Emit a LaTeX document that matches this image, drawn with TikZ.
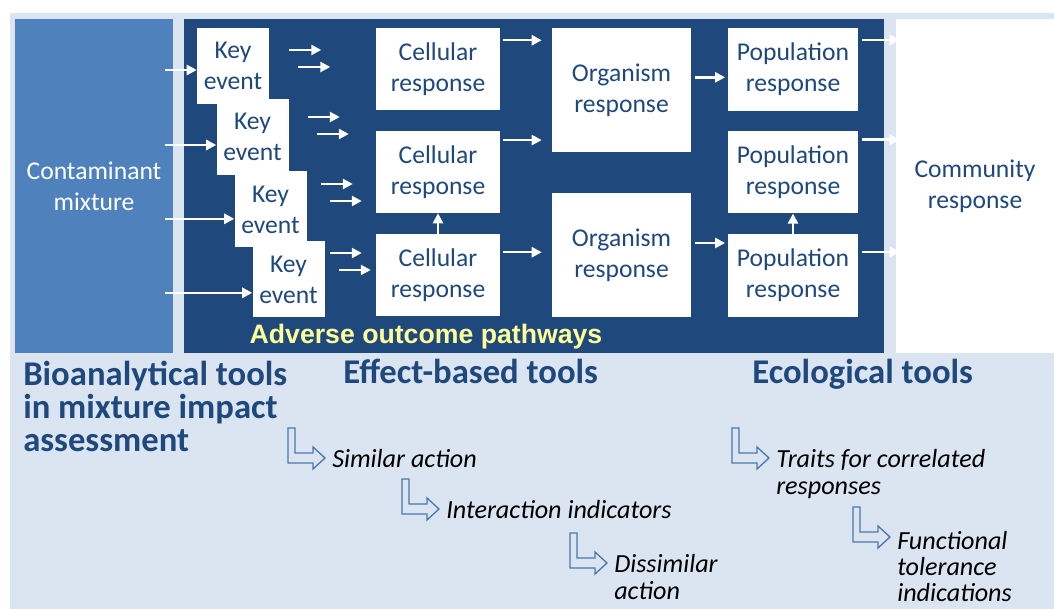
\documentclass[tikz,border=0pt]{standalone}
\usepackage{fontspec}
\setmainfont{Carlito}
\newfontfamily\arialfont{Liberation Sans}
\usetikzlibrary{arrows.meta, positioning}
\definecolor{bgblue}{HTML}{DBE5F1}
\definecolor{mixblue}{HTML}{4F81BD}
\definecolor{aopblue}{HTML}{1F497D}
\definecolor{textblue}{HTML}{1F497D}
\definecolor{aopyellow}{HTML}{FFFF99}
\definecolor{bentblue}{HTML}{4A78B0}
\newcommand{\boxfont}{\fontsize{19.2pt}{23.3pt}\selectfont}
\newcommand{\titlefont}{\fontsize{26pt}{25pt}\selectfont\bfseries}
\newcommand{\notefont}{\fontsize{19.6pt}{19.8pt}\selectfont\itshape}

\begin{document}
\begin{tikzpicture}[x=0.75pt, y=-0.75pt,
        box/.style={fill=white, text=textblue, font=\boxfont, align=center, inner sep=0pt},
        keybox/.style={box, minimum width=54pt, minimum height=57pt},
        cellbox/.style={box, minimum width=93pt, minimum height=61.5pt},
        orgbox/.style={box, minimum width=104.25pt, minimum height=93pt},
        popbox/.style={box, minimum width=97.5pt, minimum height=62pt},
        panel/.style={minimum width=118.5pt, minimum height=250.5pt, inner sep=0pt, font=\boxfont, align=center},
        flow/.style={white, line width=1.9pt, -{Triangle[length=7.5pt, width=7.5pt]}},
        title/.style={text=textblue, font=\titlefont, align=left, inner sep=0pt},
        note/.style={text=black, font=\notefont, align=left, inner sep=0pt},
        bentline/.style={draw=bentblue, fill=bgblue, line width=1pt},
        bent/.pic={
            \draw[bentline] (0,0) -- (7,0) -- (7,25) -- (25,25) -- (25,19) -- (37,30)
                -- (25,41) -- (25,35) -- (0,35) -- cycle;
            \coordinate (-tip) at (37,30);
        }]
        \useasboundingbox (0,0) rectangle (1054,609);

        % Background
        \fill[bgblue] (10,13) rectangle (1054,609);

        % Panels
        \node[panel, fill=mixblue, text=white] (mix) at (94,186) {Contaminant\\mixture};
        \node[panel, fill=aopblue, minimum width=525pt] (aop) at (534,186) {};
        \node[panel, fill=white, text=textblue] (comm) at (975,186) {Community\\response};

        % Key events
        \node[keybox] (k1) at (233,66) {Key\\event};
        \node[keybox] (k2) at (252.5,137) {Key\\event};
        \node[keybox] (k3) at (270.5,209.5) {Key\\event};
        \node[keybox] (k4) at (288.5,279.5) {Key\\event};

        % Responses
        \node[cellbox] (c1) at (438,69.5) {Cellular\\response};
        \node[cellbox] (c2) at (438,172) {Cellular\\response};
        \node[cellbox] (c3) at (438,275.5) {Cellular\\response};
        \node[orgbox] (o1) at (621.5,90) {Organism\\response};
        \node[orgbox] (o2) at (621.5,255) {Organism\\response};
        \node[popbox] (p1) at (793,69.5) {Population\\response};
        \node[popbox] (p2) at (793,172) {Population\\response};
        \node[popbox] (p3) at (793,275.5) {Population\\response};

        \node[text=aopyellow, font=\arialfont\bfseries\fontsize{20pt}{24pt}\selectfont] (aoplabel) at (426,337) {Adverse outcome pathways};

        % Mixture into key events
        \draw[flow] ([yshift=-3pt]k1.west -| mix.east) ++(-8,0) -- ([yshift=-3pt]k1.west);
        \draw[flow] ([yshift=-6pt]k2.west -| mix.east) ++(-8,0) -- ([yshift=-6pt]k2.west);
        \draw[flow] ([yshift=-7pt]k3.west -| mix.east) ++(-8,0) -- ([yshift=-7pt]k3.west);
        \draw[flow] ([yshift=-10pt]k4.west -| mix.east) ++(-8,0) -- ([yshift=-10pt]k4.west);

        % Short arrows after each key event
        \foreach \k/\xa/\ya/\xb/\yb in {k1/20/-16/29/1, k2/19/-20/28/-3, k3/14/-25.5/23/-8.5, k4/5/-26.5/14/-9.5}{
            \draw[flow] ([shift={(\xa,\ya)}]\k.east) -- ++(32,0);
            \draw[flow] ([shift={(\xb,\yb)}]\k.east) -- ++(32,0);
        }

        % Cellular to organism
        \coordinate (c1out) at ([yshift=-9pt]c1.north east);
        \coordinate (c2out) at ([yshift=-7pt]c2.north east);
        \coordinate (c3out) at ([yshift=-13.5pt]c3.north east);
        \draw[flow, shorten <=2pt, shorten >=7.5pt] (c1out) -- (c1out -| o1.west);
        \draw[flow, shorten <=2pt, shorten >=7.5pt] (c2out) -- (c2out -| o1.west);
        \draw[flow, shorten <=2pt, shorten >=7.5pt] (c3out) -- (c3out -| o2.west);
        \draw[flow] (c3.north) -- (c2.south);

        % Organism to population
        \coordinate (o1out) at ([yshift=9.5pt]o1.east);
        \coordinate (o2out) at ([yshift=9pt]o2.east);
        \draw[flow, shorten <=3pt, shorten >=2pt] (o1out) -- (o1out -| p1.west);
        \draw[flow, shorten <=3pt, shorten >=2pt] (o2out) -- (o2out -| p3.west);
        \draw[flow] (p3.north) -- (p2.south);

        % Population to community
        \coordinate (p1out) at ([yshift=-9pt]p1.north east);
        \coordinate (p2out) at ([yshift=-7pt]p2.north east);
        \coordinate (p3out) at ([yshift=-13.5pt]p3.north east);
        \draw[flow, shorten <=3pt, shorten >=-3pt] (p1out) -- (p1out -| comm.west);
        \draw[flow, shorten <=3pt, shorten >=-3pt] (p2out) -- (p2out -| comm.west);
        \draw[flow, shorten <=3pt, shorten >=-3pt] (p3out) -- (p3out -| comm.west);

        % Tool headings (base = last line)
        \node[title, anchor=base west] (bio) at (23,452) {Bioanalytical tools\\in mixture impact\\assessment};
        \node[title, anchor=base west] (effect) at (343,384) {Effect-based tools};
        \node[title, anchor=base west] (eco) at (752,384) {Ecological tools};

        % Bent arrows with notes
        \pic (b1) at (288,428) {bent};
        \pic (b2) at (402,479) {bent};
        \pic (b3) at (570,533) {bent};
        \pic (b4) at (732,428) {bent};
        \pic (b5) at (853,507) {bent};
        \node[note, anchor=base west] (n1) at ([shift={(7,10)}]b1-tip) {Similar action};
        \node[note, anchor=base west] (n2) at ([shift={(7,10)}]b2-tip) {Interaction indicators};
        \node[note, anchor=base west] (n3) at ([shift={(7,36.4)}]b3-tip) {Dissimilar\\action};
        \node[note, anchor=base west] (n4) at ([shift={(7,36.4)}]b4-tip) {Traits for correlated\\responses};
        \node[note, anchor=base west] (n5) at ([shift={(7,65)}]b5-tip) {Functional\\tolerance\\indications};
\end{tikzpicture}
\end{document}
